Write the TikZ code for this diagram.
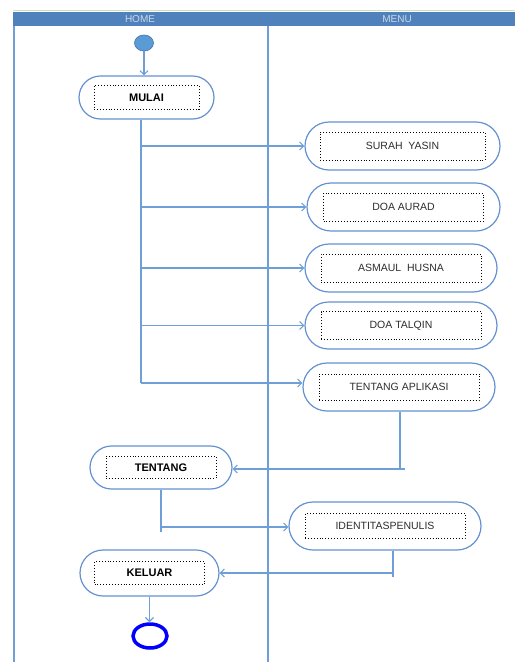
\documentclass[tikz,border=0pt]{standalone}
\usepackage{fontspec}
\setmainfont{Liberation Sans}
\usetikzlibrary{arrows.meta,calc,shapes.geometric}
\definecolor{hdr}{RGB}{79,129,189}
\definecolor{hdrtext}{RGB}{205,215,230}
\definecolor{lane}{RGB}{110,160,215}
\definecolor{boxline}{RGB}{100,145,210}
\definecolor{startfill}{RGB}{91,155,213}
\definecolor{startline}{RGB}{65,113,170}
\definecolor{topgreen}{RGB}{200,225,190}
\definecolor{menutext}{RGB}{45,45,45}
\tikzset{
  act/.style={draw=boxline, line width=1.2pt, fill=white, rounded corners=#1, inner sep=0pt},
  inbox/.style={draw=black, dotted, line width=0.9pt, inner sep=0pt, text=menutext, font=\fontsize{10.5}{12}\selectfont},
  homet/.style={inbox, text=black, font=\fontsize{11}{13}\selectfont\bfseries},
  arr/.style={draw=lane, line width=1.1pt, -{Straight Barb[length=4pt,width=8pt]}},
  ln/.style={draw=lane, line width=1.1pt},
}
\begin{document}
\begin{tikzpicture}[x=1pt,y=-1pt]
\useasboundingbox (0,0) rectangle (515,662);
% top green line and header
\draw[topgreen, line width=1pt] (13,10.5) -- (515,10.5);
\fill[hdr] (13,12) rectangle (515,26);
\node[text=hdrtext, font=\fontsize{10}{11}\selectfont] (home) at (140,19.5) {HOME};
\node[text=hdrtext, font=\fontsize{10}{11}\selectfont] (menu) at (397,19.5) {MENU};
% lane borders
\draw[lane, line width=1.2pt] (14,26) -- (14,662);
\draw[lane, line width=1.2pt] (268,26) -- (268,662);
% start
\node[ellipse, draw=startline, fill=startfill, line width=0.6pt, minimum width=19pt, minimum height=16pt, inner sep=0pt] (start) at (144,43) {};
% home nodes
\node[act=21.5pt, minimum width=135pt, minimum height=43pt] (mulai) at (146.5,97.5) {};
\node[homet, minimum width=105pt, minimum height=24pt] (mulait) at (mulai.center) {MULAI};
\node[act=21.5pt, minimum width=142pt, minimum height=43pt] (tentang) at (161,467.5) {};
\node[homet, minimum width=110pt, minimum height=22pt] (tentangt) at (tentang.center) {TENTANG};
\node[act=23pt, minimum width=139pt, minimum height=46pt] (keluar) at (149.5,573) {};
\node[homet, minimum width=110pt, minimum height=23pt] (keluart) at (keluar.center) {KELUAR};
% menu nodes
\node[act=24pt, minimum width=195pt, minimum height=48pt] (surah) at (402.5,146) {};
\node[inbox, minimum width=165pt, minimum height=28pt] (suraht) at (surah.center) {SURAH\ \ YASIN};
\node[act=24pt, minimum width=193pt, minimum height=48pt] (aurad) at (403.5,207) {};
\node[inbox, minimum width=160pt, minimum height=28pt] (auradt) at (aurad.center) {DOA AURAD};
\node[act=24pt, minimum width=192pt, minimum height=48pt] (asmaul) at (401,268) {};
\node[inbox, minimum width=160pt, minimum height=28pt] (asmault) at (asmaul.center) {ASMAUL\ \ HUSNA};
\node[act=23.5pt, minimum width=192pt, minimum height=47pt] (talqin) at (401,325.5) {};
\node[inbox, minimum width=160pt, minimum height=28pt] (talqint) at (talqin.center) {DOA TALQIN};
\node[act=24pt, minimum width=192pt, minimum height=48pt] (aplikasi) at (399,387) {};
\node[inbox, minimum width=160pt, minimum height=26pt] (aplikasit) at (aplikasi.center) {TENTANG APLIKASI};
\node[act=24pt, minimum width=192pt, minimum height=48pt] (identitas) at (385,526) {};
\node[inbox, minimum width=160pt, minimum height=25pt] (identitast) at (identitas.center) {IDENTITASPENULIS};
% end
\node[ellipse, draw=blue, line width=3.5pt, minimum width=34pt, minimum height=24pt, inner sep=0pt] (end) at (150,636) {};
% connectors
\draw[arr] (start) -- (start |- mulai.north);
\coordinate (trunk) at (141,383);
\draw[ln] (mulai.south -| trunk) -- (trunk);
\draw[arr] (trunk |- surah.west) -- (surah.west);
\draw[arr] (trunk |- aurad.west) -- (aurad.west);
\draw[arr] (trunk |- asmaul.west) -- (asmaul.west);
\draw[arr] (trunk |- talqin.west) -- (talqin.west);
\draw[arr] (trunk) -- (trunk -| aplikasi.west);
\coordinate (c1) at (400,469);
\draw[ln] (aplikasi.south -| c1) -- (c1);
\draw[arr] ($(c1)+(5,0)$) -- (c1 -| tentang.east);
\coordinate (c2) at (161,527);
\draw[ln] (tentang.south) -- ($(c2)+(0,5)$);
\draw[arr] (c2) -- (c2 -| identitas.west);
\coordinate (c3) at (393,573);
\draw[ln] (identitas.south -| c3) -- ($(c3)+(0,4)$);
\draw[arr] (c3) -- (keluar.east);
\draw[arr] (keluar.south) -- (keluar.south |- end.north);
\end{tikzpicture}
\end{document}
